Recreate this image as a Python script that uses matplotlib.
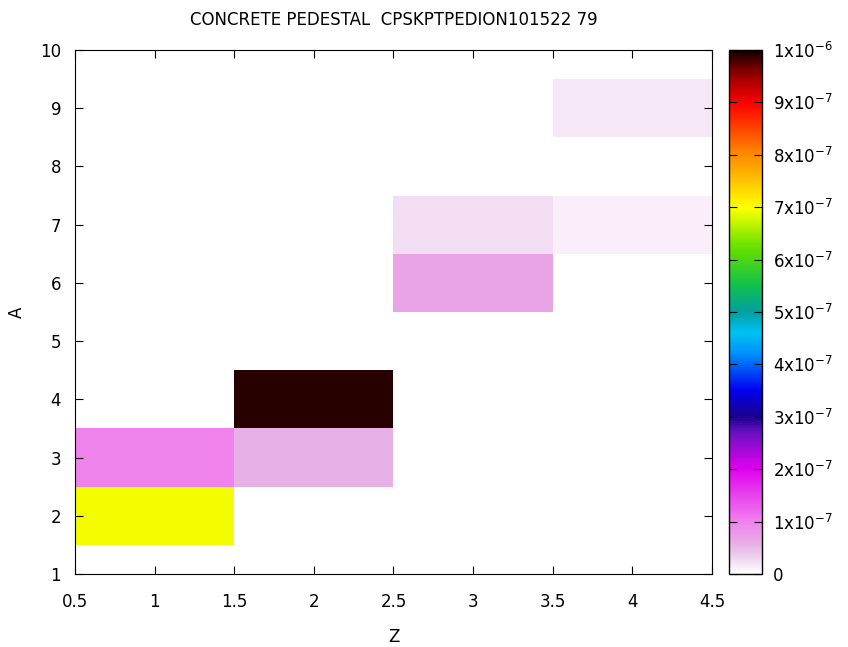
import numpy as np
import matplotlib
matplotlib.use("Agg")
import matplotlib.pyplot as plt
from matplotlib.colors import LinearSegmentedColormap

# cells: Z, A, value
z_vals = [1, 1, 2, 2, 3, 3, 4, 4]
a_vals = [2, 3, 3, 4, 6, 7, 7, 9]
values = [6.92e-7, 1.0e-7, 0.55e-7, 9.9e-7, 0.7e-7, 0.25e-7, 0.12e-7, 0.19e-7]

cbar_ticks = [0, 1e-7, 2e-7, 3e-7, 4e-7, 5e-7, 6e-7, 7e-7, 8e-7, 9e-7, 1e-6]
cbar_labels = ["0"] + [r"%dx10$^{-7}$" % i for i in range(1, 10)] + [r"1x10$^{-6}$"]

# gnuplot-like palette
stops = [
    (0.00, "#ffffff"),
    (0.05, "#e6b6e6"),
    (0.10, "#f080ec"),
    (0.20, "#e000f0"),
    (0.27, "#6a10c0"),
    (0.30, "#1a0090"),
    (0.35, "#0000f0"),
    (0.42, "#0090ff"),
    (0.46, "#00c0f0"),
    (0.50, "#00a0a0"),
    (0.55, "#10c050"),
    (0.62, "#60e000"),
    (0.70, "#ffff00"),
    (0.80, "#ff8c00"),
    (0.90, "#ff0000"),
    (0.95, "#a00000"),
    (1.00, "#100000"),
]
cmap = LinearSegmentedColormap.from_list("gp", stops)

plt.rcParams['font.family'] = 'DejaVu Sans'
plt.rcParams['font.size'] = 11

fig = plt.figure(figsize=(8.48, 6.47), dpi=100)
ax = fig.add_axes([0.0884, 0.1128, 0.7512, 0.8099])
cax = fig.add_axes([0.8597, 0.1128, 0.0389, 0.8099])

zedges = np.arange(0.5, 5.0, 1.0)
aedges = np.arange(0.5, 10.6, 1.0)
grid = np.full((len(aedges) - 1, len(zedges) - 1), np.nan)
for z, a, v in zip(z_vals, a_vals, values):
    grid[a - 1, z - 1] = v
grid = np.ma.masked_invalid(grid)

mesh = ax.pcolormesh(zedges, aedges, grid, cmap=cmap, vmin=0, vmax=1e-6)

ax.set_xlim(0.5, 4.5)
ax.set_ylim(1, 10)
ax.set_xticks(np.arange(0.5, 4.6, 0.5))
ax.set_xticklabels(["0.5", "1", "1.5", "2", "2.5", "3", "3.5", "4", "4.5"])
ax.set_yticks(range(1, 11))
ax.tick_params(axis='both', direction='in', top=True, right=True, length=6, labelsize=12)
ax.tick_params(axis='x', pad=14)
ax.tick_params(axis='y', pad=10)
ax.set_xlabel("Z", fontsize=12, labelpad=12)
ax.set_ylabel("A", fontsize=12, labelpad=10)
ax.set_title("CONCRETE PEDESTAL  CPSKPTPEDION101522 79", fontsize=12, pad=18)

cb = fig.colorbar(mesh, cax=cax, ticks=cbar_ticks)
cb.ax.set_yticklabels(cbar_labels)
cb.ax.tick_params(direction='in', left=True, right=True, length=6, labelsize=12, pad=8)
cb.outline.set_linewidth(1.0)

fig.savefig("out.png", dpi=100)
